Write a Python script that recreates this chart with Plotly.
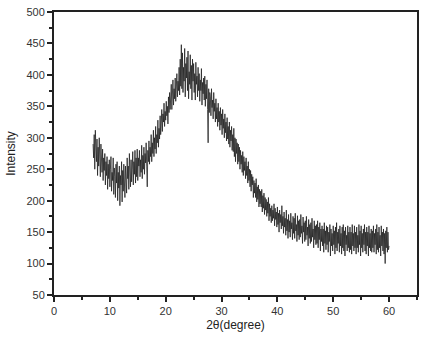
import numpy as np
import plotly.graph_objects as go

# scan grid (degrees)
two_theta_start = 7.0
two_theta_step = 0.1

intensity = [
    290, 268, 305, 250, 312, 275, 262, 298, 240, 285,
    255, 300, 262, 238, 290, 270, 245, 282, 232, 268,
    248, 275, 225, 262, 240, 270, 218, 258, 235, 265,
    222, 250, 270, 215, 245, 232, 268, 210, 252, 238,
    205, 258, 228, 262, 200, 245, 220, 255, 192, 240,
    225, 262, 198, 248, 215, 258, 228, 205, 255, 232,
    212, 268, 235, 255, 218, 275, 240, 222, 265, 230,
    250, 278, 225, 262, 242, 280, 228, 268, 238, 282,
    232, 268, 255, 280, 238, 265, 245, 288, 235, 272,
    250, 285, 242, 275, 260, 292, 255, 222, 280, 262,
    295, 258, 285, 270, 305, 262, 292, 275, 312, 270,
    300, 282, 318, 275, 305, 292, 328, 285, 315, 298,
    335, 305, 322, 345, 310, 338, 325, 355, 318, 342,
    328, 358, 335, 350, 322, 365, 340, 372, 345, 360,
    385, 345, 370, 392, 352, 378, 362, 395, 358, 382,
    402, 365, 390, 375, 412, 368, 425, 382, 448, 378,
    435, 372, 412, 390, 442, 365, 418, 395, 428, 375,
    438, 362, 405, 385, 432, 378, 415, 360, 425, 390,
    418, 372, 402, 360, 420, 385, 398, 365, 412, 375,
    402, 358, 392, 375, 410, 352, 388, 370, 395, 360,
    398, 350, 385, 362, 392, 345, 292, 378, 340, 372,
    365, 335, 378, 348, 360, 330, 372, 342, 355, 325,
    362, 330, 348, 318, 355, 325, 342, 312, 348, 320,
    338, 305, 345, 315, 330, 300, 338, 308, 325, 295,
    332, 298, 318, 290, 325, 285, 312, 295, 318, 280,
    305, 278, 315, 270, 300, 262, 298, 275, 292, 258,
    290, 262, 285, 250, 280, 258, 272, 245, 278, 240,
    270, 248, 262, 235, 268, 240, 255, 228, 262, 232,
    250, 222, 248, 215, 242, 225, 238, 205, 232, 212,
    228, 205, 235, 198, 222, 202, 225, 190, 218, 195,
    215, 190, 218, 182, 208, 188, 212, 178, 205, 185,
    202, 175, 198, 180, 205, 168, 195, 175, 188, 165,
    192, 168, 185, 172, 195, 160, 188, 170, 182, 158,
    190, 162, 180, 150, 185, 165, 178, 155, 192, 160,
    175, 148, 182, 158, 172, 145, 185, 152, 170, 140,
    178, 150, 168, 142, 180, 155, 165, 138, 175, 148,
    172, 140, 180, 152, 162, 135, 176, 145, 168, 138,
    170, 142, 178, 148, 160, 132, 174, 150, 165, 135,
    168, 138, 175, 145, 158, 128, 170, 140, 162, 132,
    165, 135, 172, 142, 155, 125, 168, 138, 160, 130,
    162, 132, 168, 125, 158, 138, 165, 120, 155, 135,
    160, 128, 155, 118, 165, 132, 152, 122, 160, 130,
    158, 118, 150, 135, 162, 112, 155, 128, 148, 120,
    160, 130, 152, 115, 158, 125, 165, 120, 150, 132,
    155, 118, 160, 128, 148, 115, 158, 125, 162, 120,
    152, 112, 158, 130, 145, 120, 160, 125, 150, 118,
    158, 122, 150, 115, 162, 128, 148, 120, 160, 125,
    150, 115, 158, 125, 145, 118, 162, 130, 152, 112,
    160, 125, 148, 118, 155, 130, 162, 120, 150, 115,
    158, 128, 150, 112, 160, 125, 148, 120, 155, 118,
    152, 125, 160, 118, 148, 130, 155, 115, 162, 122,
    150, 118, 158, 125, 145, 112, 160, 128, 150, 120,
    155, 115, 148, 100, 152, 125, 158, 118, 150, 122,
    128,
]

two_theta = np.round(two_theta_start + two_theta_step * np.arange(len(intensity)), 2)

x_ticks = [0, 10, 20, 30, 40, 50, 60]
y_ticks = [50, 100, 150, 200, 250, 300, 350, 400, 450, 500]

font_family = "Liberation Sans, Arial, sans-serif"

fig = go.Figure()
fig.add_trace(go.Scatter(
    x=two_theta, y=intensity, mode="lines",
    line=dict(color="#222222", width=0.8),
    showlegend=False, hoverinfo="skip",
))

fig.update_layout(
    width=426, height=345,
    margin=dict(l=54, r=9, t=12, b=50),
    paper_bgcolor="white", plot_bgcolor="white",
    font=dict(family=font_family, size=11, color="#333333"),
)
fig.update_xaxes(
    range=[0, 65], tickvals=x_ticks, ticks="outside", ticklen=5, tickwidth=2,
    tickcolor="#222", showline=True, linecolor="#222", linewidth=2, mirror=True,
    showgrid=False, zeroline=False, automargin=False,
    minor=dict(ticks="outside", ticklen=3, tickwidth=2, dtick=5, tickcolor="#222"),
    title=dict(text="2θ(degree)", font=dict(size=12, color="#222"), standoff=4),
    tickfont=dict(size=11, color="#333"),
)
fig.update_yaxes(
    range=[50, 500], tickvals=y_ticks, ticks="outside", ticklen=5, tickwidth=2,
    tickcolor="#222", showline=True, linecolor="#222", linewidth=2, mirror=True,
    showgrid=False, zeroline=False, automargin=False,
    minor=dict(ticks="outside", ticklen=3, tickwidth=2, dtick=25, tickcolor="#222"),
    title=dict(text="Intensity", font=dict(size=12, color="#222"), standoff=8),
    tickfont=dict(size=11, color="#333"),
)

fig.write_html("out.html", config={"displayModeBar": False},
               post_script="document.body.style.margin='0';")
